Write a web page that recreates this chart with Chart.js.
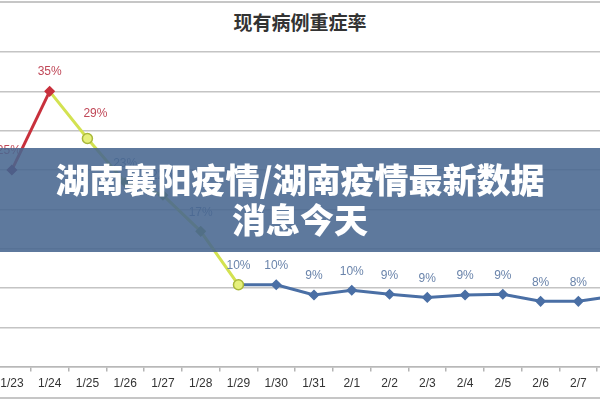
<!DOCTYPE html>
<html>
<head>
<meta charset="utf-8">
<script src="https://cdn.jsdelivr.net/npm/chart.js@4/dist/chart.umd.min.js"></script>
<style>
  html, body { margin: 0; padding: 0; background: #fff; }
  body { width: 600px; height: 400px; position: relative; overflow: hidden; }
  #frameTop, #frameBottom { position: absolute; left: 0; width: 600px; height: 2px; background: #c6c6c6; }
  #frameTop { top: 1px; }
  #frameBottom { top: 397px; }
  #title {
    position: absolute; left: 0; top: 10px; width: 600px; text-align: center;
    font: bold 19px "Noto Sans CJK SC", sans-serif; line-height: 24px; color: #333;
  }
  #wrap { position: absolute; left: -13px; top: 0; width: 654px; height: 400px; }
  #banner {
    position: absolute; left: 0; top: 148px; width: 600px; height: 104px;
    background: rgba(72, 103, 143, 0.88);
  }
  #banner div {
    position: absolute; left: 0; top: 11px; width: 600px; text-align: center;
    font: 900 34px "Noto Sans CJK SC", sans-serif; line-height: 40px; color: #fff;
  }
</style>
</head>
<body>
<div id="frameTop"></div>
<div id="frameBottom"></div>
<div id="title">现有病例重症率</div>
<div id="wrap"><canvas id="chart"></canvas></div>
<div id="banner"><div>湖南襄阳疫情/湖南疫情最新数据<br>消息今天</div></div>

<script>
// ── Data ──────────────────────────────────────────────────
const dates = ['1/23', '1/24', '1/25', '1/26', '1/27', '1/28', '1/29', '1/30',
               '1/31', '2/1', '2/2', '2/3', '2/4', '2/5', '2/6', '2/7', '2/8'];
const severeRate = [25, 35, 29, 23.4, 21.8, 17.2, 10.4, 10.4,
                    9.1, 9.7, 9.2, 8.8, 9.1, 9.2, 8.3, 8.3, 9];
const yTicks = [0, 5, 10, 15, 20, 25, 30, 35, 40];

// ── Colours by phase ──────────────────────────────────────
const RED = '#c8303c', YELLOW = '#d3e251', BLUE = '#4a6fa5';

function segColor(i) {
  if (i === 0) return RED;
  if (i < 6) return YELLOW;
  return BLUE;
}
function pointFill(i) {
  if (i === 0) return '#7b2350';
  if (i === 1) return RED;
  if (i === 2 || i === 6) return '#e6f07c';
  if (i < 6) return '#94a846';
  return BLUE;
}
function pointEdge(i) {
  if (i === 2 || i === 6) return '#a9b83a';
  return pointFill(i);
}
function labelColor(i) {
  return i < 3 ? '#c04858' : '#6a84ab';
}

// value labels above each point
const valueLabels = {
  id: 'valueLabels',
  afterDatasetsDraw(chart) {
    const { ctx } = chart;
    const meta = chart.getDatasetMeta(0);
    ctx.save();
    ctx.font = '12px "Liberation Sans", Arial, sans-serif';
    ctx.textAlign = 'center';
    ctx.textBaseline = 'middle';
    meta.data.forEach((pt, i) => {
      let dx = 0, dy = -19;
      if (i === 0) dx = -3;
      if (i === 1) dy = -20;
      if (i === 2) { dx = 8; dy = -25; }
      ctx.fillStyle = labelColor(i);
      ctx.fillText(Math.round(severeRate[i]) + '%', pt.x + dx, pt.y + dy);
    });
    ctx.restore();
  }
};

new Chart(document.getElementById('chart'), {
  type: 'line',
  data: {
    labels: dates,
    datasets: [{
      data: severeRate,
      borderWidth: 3,
      borderColor: BLUE,
      segment: { borderColor: c => segColor(c.p0DataIndex) },
      pointStyle: c => (c.dataIndex === 2 || c.dataIndex === 6) ? 'circle' : 'rectRot',
      pointRadius: c => (c.dataIndex === 2 || c.dataIndex === 6) ? 5 : 4.5,
      pointBackgroundColor: c => pointFill(c.dataIndex),
      pointBorderColor: c => pointEdge(c.dataIndex),
      pointBorderWidth: 1.5,
      tension: 0,
    }],
  },
  options: {
    responsive: true,
    maintainAspectRatio: false,
    animation: false,
    layout: { padding: { top: 52, bottom: 4, left: 0, right: 0 } },
    scales: {
      x: {
        offset: true,
        grid: { offset: true, drawOnChartArea: false, drawTicks: true, tickLength: 5, color: '#b4b4b4', lineWidth: 1.5 },
        border: { display: true, color: '#b8b8b8', width: 1.5 },
        ticks: { color: '#333', font: { size: 12, family: '"Liberation Sans", Arial, sans-serif' }, padding: 5, maxRotation: 0, autoSkip: false },
      },
      y: {
        min: yTicks[0],
        max: yTicks[yTicks.length - 1],
        afterBuildTicks: axis => { axis.ticks = yTicks.map(v => ({ value: v })); },
        afterFit: axis => { axis.width = 0; },
        grid: { color: '#c4c4c4', lineWidth: 1.5, drawTicks: false },
        border: { display: false },
        ticks: { display: false },
      },
    },
    plugins: {
      legend: { display: false },
      tooltip: { enabled: false },
    },
  },
  plugins: [valueLabels],
});
</script>
</body>
</html>
